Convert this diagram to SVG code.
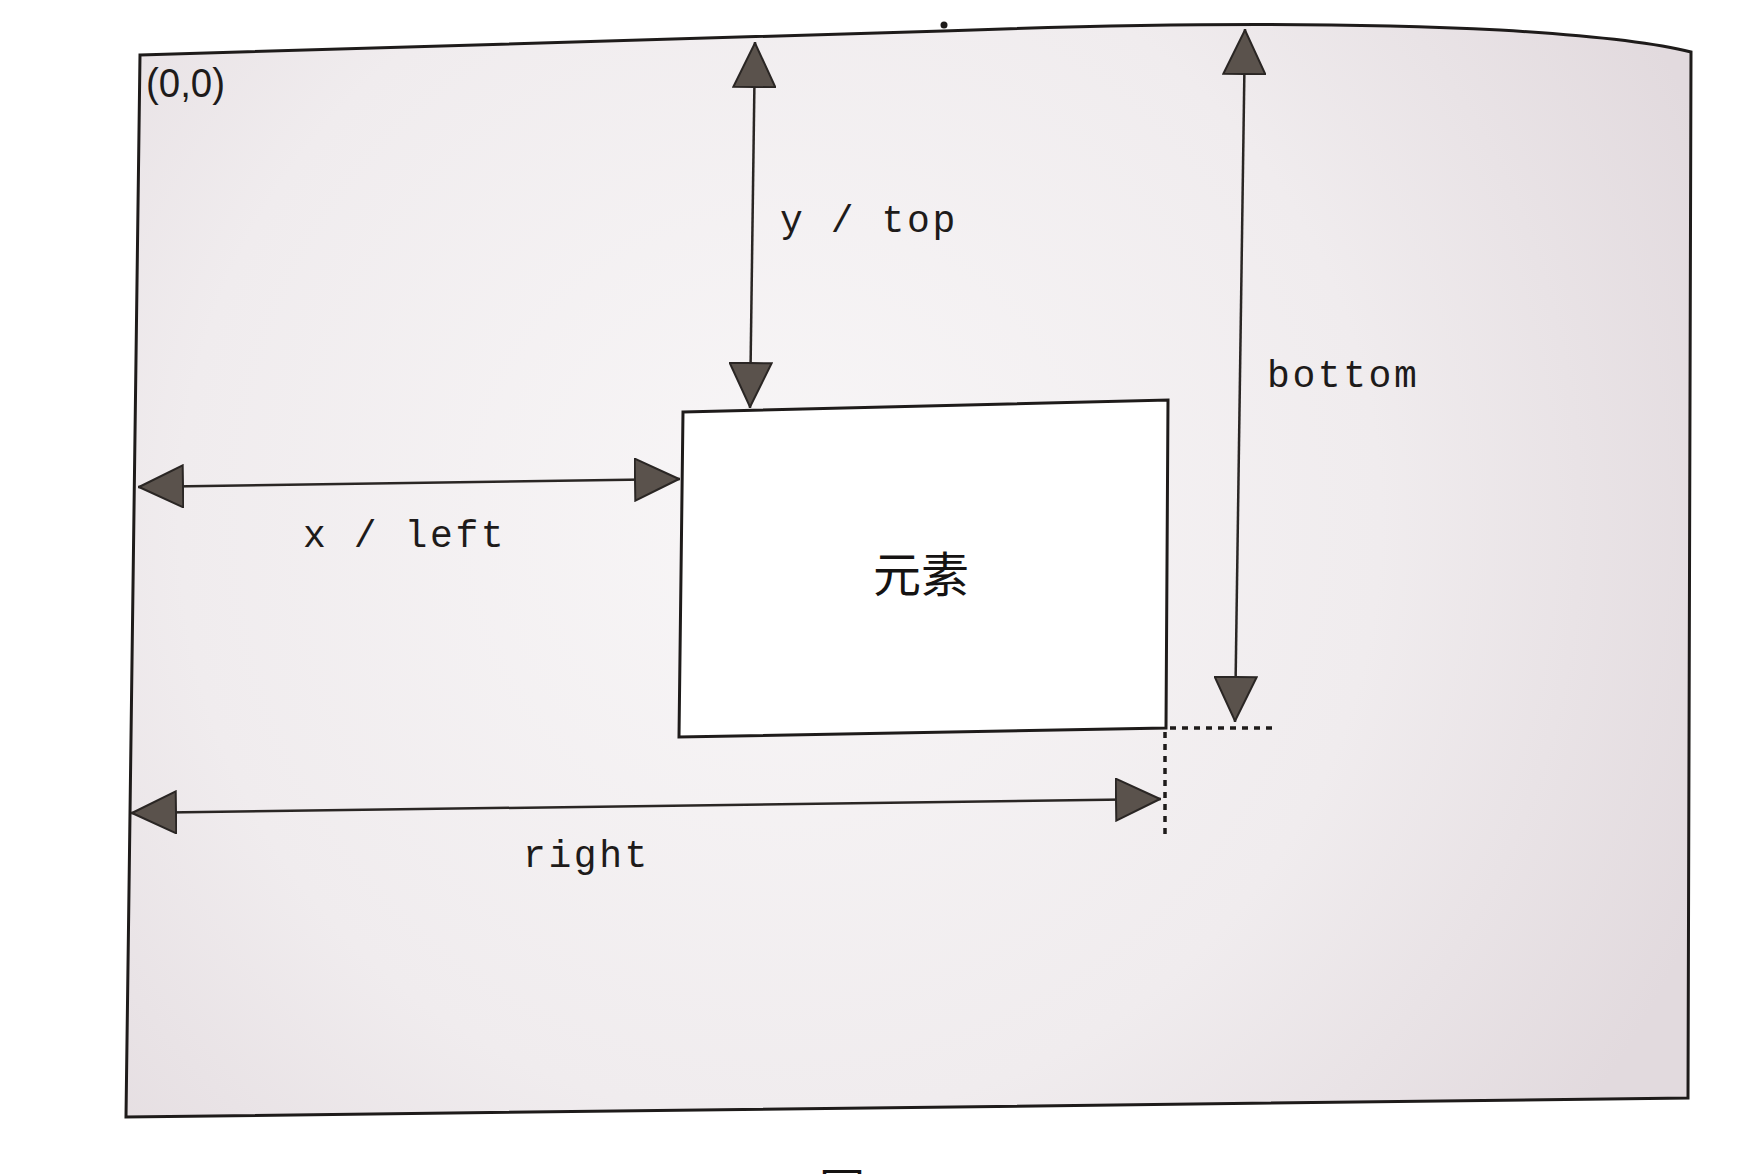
<svg xmlns="http://www.w3.org/2000/svg" width="1747" height="1174" viewBox="0 0 1747 1174">
  <defs>
    <radialGradient id="paper" cx="780" cy="520" r="1000" gradientUnits="userSpaceOnUse">
      <stop offset="0" stop-color="#f8f6f7"/>
      <stop offset="0.6" stop-color="#f0ecee"/>
      <stop offset="1" stop-color="#e2dade"/>
    </radialGradient>
    <marker id="head" viewBox="0 0 46 44" refX="46" refY="22" markerWidth="46" markerHeight="44" markerUnits="userSpaceOnUse" orient="auto-start-reverse">
      <path d="M1,1 L45,22 L1,43 Z" fill="#5a524c" stroke="#2a2624" stroke-width="2"/>
    </marker>
    <style>
      .frame { fill: url(#paper); stroke: #1e1b1a; stroke-width: 3; }
      .box { fill: #ffffff; stroke: #1e1b1a; stroke-width: 3; }
      .dim { stroke: #2a2624; stroke-width: 2.5; fill: none; marker-start: url(#head); marker-end: url(#head); }
      .dot { stroke: #1e1b1a; stroke-width: 3.5; stroke-dasharray: 6 6; fill: none; }
      .lbl { font-family: "Liberation Mono", "DejaVu Sans Mono", monospace; font-size: 38px; letter-spacing: 2.6px; fill: #1e1b1a; }
      .sans { font-family: "Liberation Sans", Arial, sans-serif; fill: #1e1b1a; }
      .cjk { font-family: "Noto Sans CJK SC", "Noto Sans", sans-serif; fill: #151312; }
    </style>
  </defs>
  <rect width="1747" height="1174" fill="#ffffff"/>
  <g id="viewport">
    <path class="frame" d="M140,55 C500,45 800,36 943,31 C1100,25 1300,20 1500,30 C1600,36 1660,44 1691,52 L1688,1098 L126,1117 Z"/>
    <circle cx="944" cy="25" r="3.5" fill="#1e1b1a"/>
    <text class="sans" x="146" y="97" font-size="40" textLength="79" lengthAdjust="spacingAndGlyphs">(0,0)</text>
  </g>
  <g id="element">
    <polygon class="box" points="683,412 1168,400 1166,728 679,737"/>
    <text class="cjk" x="921" y="592" font-size="48" text-anchor="middle">元素</text>
  </g>
  <g id="connectors">
    <line class="dim" x1="755" y1="42" x2="750" y2="408"/>
    <line class="dim" x1="1245" y1="29" x2="1235" y2="722"/>
    <line class="dim" x1="138" y1="487" x2="680" y2="479"/>
    <line class="dim" x1="131" y1="813" x2="1161" y2="799"/>
    <line class="dot" x1="1170" y1="728" x2="1278" y2="728"/>
    <line class="dot" x1="1165" y1="732" x2="1165" y2="834"/>
  </g>
  <g id="labels">
    <text class="lbl" x="780" y="232">y / top</text>
    <text class="lbl" x="1267" y="387">bottom</text>
    <text class="lbl" x="303" y="547">x / left</text>
    <text class="lbl" x="523" y="867">right</text>
  </g>
  <text class="cjk" x="819" y="1206" font-size="46">图</text>
</svg>
